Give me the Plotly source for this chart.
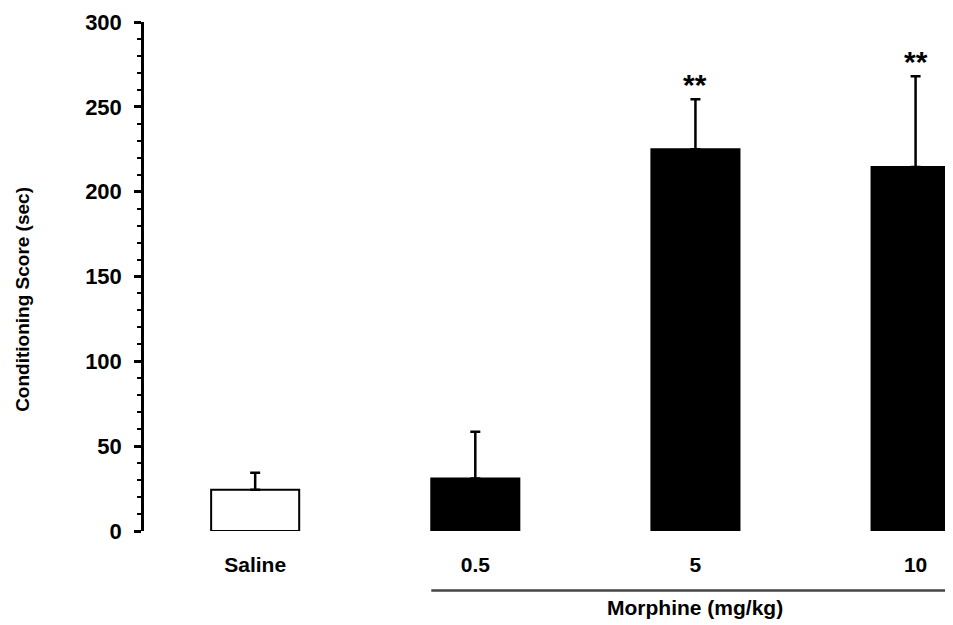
import plotly.graph_objects as go

categories = ["Saline", "0.5", "5", "10"]
means = [24.3, 31.0, 225.0, 214.5]
sem_plus = [10.1, 27.5, 29.5, 53.5]
bar_colors = ["white", "black", "black", "black"]
sig_labels = ["", "", "**", "**"]
y_ticks = [0, 50, 100, 150, 200, 250, 300]

FONT = "Liberation Sans"

fig = go.Figure()
fig.add_trace(go.Bar(
    x=categories, y=means, width=0.4,
    marker=dict(color=bar_colors, line=dict(color="black", width=2)),
    error_y=dict(type="data", symmetric=False, array=sem_plus,
                 arrayminus=[0] * len(means), color="black",
                 thickness=2.5, width=5),
    showlegend=False,
))

# significance markers (x given as category index)
for i, s in enumerate(sig_labels):
    if s:
        fig.add_annotation(x=i, xref="x", y=means[i] + sem_plus[i], yref="y",
                           yshift=-4, text="<b>" + s + "</b>", showarrow=False,
                           yanchor="bottom",
                           font=dict(family=FONT, size=30, color="black"))

# Morphine group line and label
fig.add_shape(type="line", xref="x", yref="paper", x0=0.8, x1=3.2,
              y0=-0.117, y1=-0.117, line=dict(color="#444444", width=2.5))
fig.add_annotation(x=2, xref="x", y=-0.151, yref="paper", yanchor="middle",
                   text="<b>Morphine (mg/kg)</b>", showarrow=False,
                   font=dict(family=FONT, size=21, color="black"))

# y-axis title
fig.add_annotation(x=-0.1496, xref="paper", y=0.456, yref="paper",
                   text="<b>Conditioning Score (sec)</b>", textangle=-90,
                   showarrow=False, xanchor="center", yanchor="middle",
                   font=dict(family=FONT, size=19, color="black"))

# page body has an 8px margin, so the figure is sized/offset to compensate
fig.update_layout(
    width=945, height=617,
    margin=dict(l=136, r=0, t=14, b=94),
    paper_bgcolor="white", plot_bgcolor="white",
    font=dict(family=FONT, color="black"),
    xaxis=dict(type="category", range=[-0.505, 3.17], showline=False,
               showgrid=False, zeroline=False, ticks="",
               tickfont=dict(family=FONT, size=21, color="black", weight="bold"),
               ticklabelstandoff=19),
    yaxis=dict(range=[0, 300], tickvals=y_ticks, showgrid=False,
               zeroline=False, showline=True, linecolor="black", linewidth=2.5,
               ticks="outside", ticklen=7, tickwidth=2.5, tickcolor="black",
               minor=dict(dtick=10, ticks="outside", ticklen=4, tickwidth=2,
                          tickcolor="black", showgrid=False),
               tickfont=dict(family=FONT, size=22, color="black", weight="bold"),
               ticklabelstandoff=8),
)

fig.write_html("out.html")
